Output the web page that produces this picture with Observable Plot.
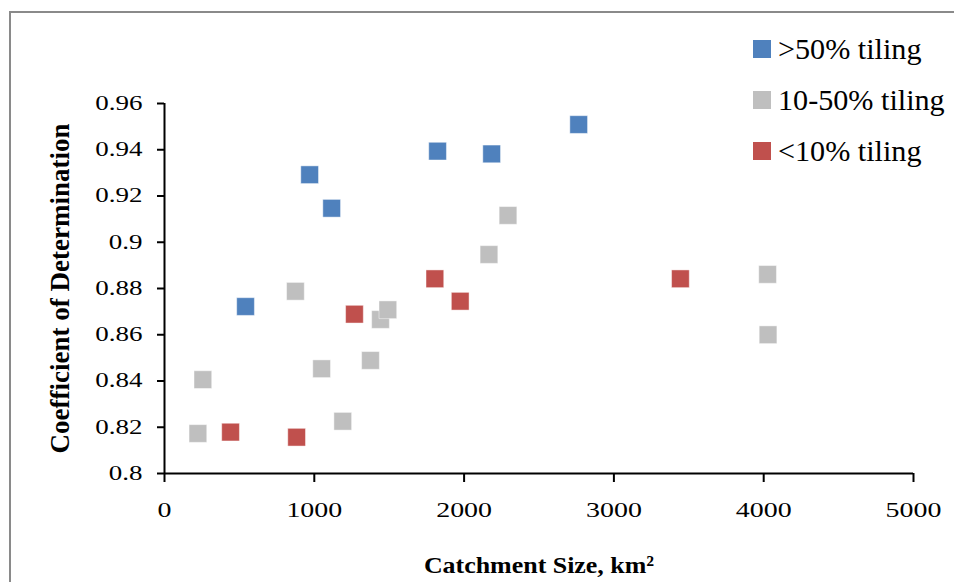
<!DOCTYPE html>
<html>
<head>
<meta charset="utf-8">
<script src="https://cdn.jsdelivr.net/npm/d3@7"></script>
<script src="https://cdn.jsdelivr.net/npm/@observablehq/plot@0.6"></script>
<style>
  html, body { margin: 0; padding: 0; background: #fff; overflow: hidden; }
  #wrap { position: relative; width: 954px; height: 582px; overflow: hidden; }
  #border { position: absolute; left: 9px; top: 11px; width: 1000px; height: 700px; border: 2px solid #8a8a8a; box-sizing: border-box; }
  #chart { position: absolute; left: 0; top: 0; }
  .lg { position: absolute; left: 753px; height: 30px; font-family: "Liberation Serif", "Times New Roman", serif; font-size: 29px; line-height: 30px; color: #000; white-space: nowrap; }
  .lg .sw { position: absolute; left: 0; top: 6px; width: 18px; height: 18px; }
  .lg .tx { position: absolute; left: 25px; top: 0; display: inline-block; transform: scaleX(1.04); transform-origin: left center; }
</style>
</head>
<body>
<div id="wrap">
  <div id="border"></div>
  <div id="chart"></div>
  <div id="legend"></div>
</div>
<script>
// ---- data ----
const seriesNames = [">50% tiling", "10-50% tiling", "<10% tiling"];
const seriesColors = ["#4F81BD", "#BFBFBF", "#C0504D"];

const highArea = [541, 969, 1116, 1823, 2184, 2765];
const highR2   = [0.8722, 0.9292, 0.9147, 0.9394, 0.9382, 0.9509];

const midArea = [223, 256, 874, 1049, 1190, 1375, 1442, 1491, 2166, 2293, 4026, 4029];
const midR2   = [0.8173, 0.8406, 0.8788, 0.8453, 0.8226, 0.8489, 0.8666, 0.8708, 0.8947, 0.9116, 0.8861, 0.8600];

const lowArea = [441, 882, 1268, 1805, 1974, 3444];
const lowR2   = [0.8179, 0.8157, 0.8689, 0.8842, 0.8745, 0.8842];

const xTicks = [0, 1000, 2000, 3000, 4000, 5000];
const yTicks = [0.8, 0.82, 0.84, 0.86, 0.88, 0.9, 0.92, 0.94, 0.96];

const xLabel = "Catchment Size, km\u00B2";
const yLabel = "Coefficient of Determination";

// ---- build table ----
const seriesArea = [highArea, midArea, lowArea];
const seriesR2 = [highR2, midR2, lowR2];
const points = [];
seriesNames.forEach((name, s) => {
  seriesArea[s].forEach((a, i) => points.push({series: name, area: a, r2: seriesR2[s][i]}));
});

const font = '"Liberation Serif", "Times New Roman", serif';

const chart = Plot.plot({
  width: 954,
  height: 582,
  marginLeft: 164,
  marginRight: 41,
  marginTop: 103,
  marginBottom: 109,
  style: {fontFamily: font, background: "transparent", color: "#000"},
  x: {domain: [0, 5000]},
  y: {domain: [0.8, 0.96]},
  color: {domain: seriesNames, range: seriesColors},
  marks: [
    Plot.axisX({ticks: xTicks, tickFormat: d3.format("d"), tickSize: 9, tickPadding: 20, fontSize: 21, strokeWidth: 2, stroke: "#000", label: null}),
    Plot.axisY({ticks: yTicks, tickFormat: d => String(d), tickSize: 7, tickPadding: 15, fontSize: 20, strokeWidth: 2, stroke: "#000", label: null}),
    Plot.ruleX([0], {stroke: "#000", strokeWidth: 2}),
    Plot.ruleY([0.8], {stroke: "#000", strokeWidth: 2}),
    Plot.dot(points, {x: "area", y: "r2", fill: "series", symbol: "square", r: 10, stroke: "#fff", strokeOpacity: 0.45, strokeWidth: 1}),
    Plot.text([xLabel], {frameAnchor: "bottom", dy: 92, text: d => d, fontSize: 24, fontWeight: "bold", textAnchor: "middle", lineAnchor: "middle", fill: "#000"}),
    Plot.text([yLabel], {frameAnchor: "left", dx: -104, rotate: -90, text: d => d, fontSize: 27, fontWeight: "bold", textAnchor: "middle", lineAnchor: "middle", fill: "#000"})
  ]
});

document.getElementById("chart").appendChild(chart);

// horizontal stretch of text to match the reference's proportions
function stretchNodes(sel, k) {
  sel.each(function () {
    const L = this.getComputedTextLength();
    if (L > 0) {
      this.setAttribute("textLength", L * k);
      this.setAttribute("lengthAdjust", "spacingAndGlyphs");
    }
  });
}
stretchNodes(d3.select(chart).selectAll('g[aria-label="y-axis tick label"] text'), 1.35);
stretchNodes(d3.select(chart).selectAll('g[aria-label="x-axis tick label"] text'), 1.33);
stretchNodes(d3.select(chart).selectAll("text").filter(function () { return this.textContent === xLabel; }), 1.08);

// ---- legend ----
const legend = document.getElementById("legend");
const legendCenters = [49, 100, 151];
seriesNames.forEach((name, i) => {
  const row = document.createElement("div");
  row.className = "lg";
  row.style.top = (legendCenters[i] - 15) + "px";
  const sw = document.createElement("span");
  sw.className = "sw";
  sw.style.background = seriesColors[i];
  const tx = document.createElement("span");
  tx.className = "tx";
  tx.textContent = name;
  row.appendChild(sw);
  row.appendChild(tx);
  legend.appendChild(row);
});
</script>
</body>
</html>
